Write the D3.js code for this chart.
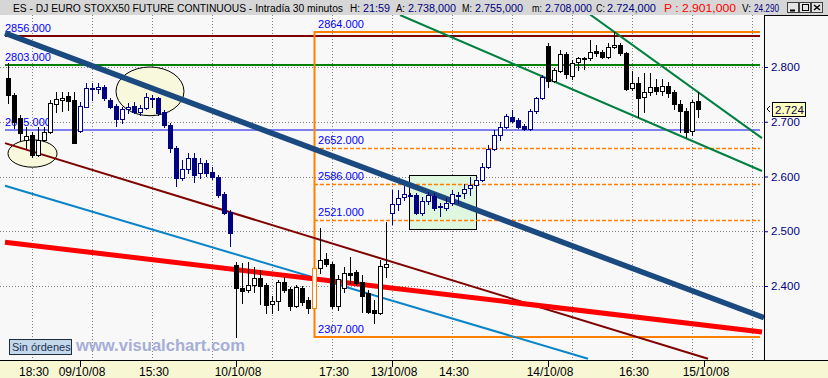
<!DOCTYPE html>
<html>
<head>
<meta charset="utf-8">
<script src="https://cdn.jsdelivr.net/npm/d3@7"></script>
<style>
  body { margin: 0; background: #f8f8f8; }
  svg { display: block; font-family: "Liberation Sans", Arial, sans-serif; }
</style>
</head>
<body>
<div id="chart"></div>
<script>
// OHLC, 30 minute bars, 08/10/08 (partial) .. 14/10/08
var openP = [2780,2749,2707,2667,2676,2639,2667,2681,2732,2740,2747,2740,
  2683,2727,2760,2760,2764,2740,2729,2705,2723,2729,2718,2725,2743,2743,2718,2694,2652,2597,2614,2634,2606,2625,2608,2599,2568,2535,
  2438,2396,2393,2402,2415,2402,2367,2373,2407,2395,2364,2396,2374,2360,2433,2449,2440,2364,2396,2424,2426,2407,2387,2356,2351,2435,
  2533,2550,2563,2566,2566,2533,2555,2564,2546,2543,2552,2564,2570,2579,2584,2594,2617,2650,2676,2690,2709,2703,2692,2687,2720,2743,
  2838,2774,2793,2824,2784,2809,2816,2816,2829,2827,2818,2837,2840,2826,2762,2771,2745,2754,2764,2756,2765,2754,2732,2720,2683,2738];
var highP = [2807,2753,2712,2690,2681,2690,2690,2740,2754,2754,2754,2754,
  2736,2771,2771,2771,2767,2743,2732,2727,2734,2736,2731,2753,2749,2745,2721,2698,2656,2630,2643,2643,2634,2630,2617,2603,2572,2539,
  2444,2442,2444,2435,2429,2405,2382,2411,2416,2398,2402,2400,2380,2444,2506,2460,2444,2420,2435,2453,2429,2420,2393,2374,2448,2517,
  2575,2575,2583,2570,2570,2563,2572,2570,2552,2561,2575,2572,2586,2599,2599,2625,2658,2685,2700,2714,2721,2707,2696,2723,2745,2785,
  2844,2798,2831,2827,2813,2818,2818,2849,2840,2831,2844,2864,2844,2827,2793,2782,2789,2789,2778,2778,2773,2758,2740,2725,2740,2755];
var lowP = [2734,2689,2667,2652,2636,2638,2665,2680,2718,2720,2721,2661,
  2681,2727,2740,2753,2740,2725,2692,2698,2716,2716,2712,2723,2727,2712,2690,2645,2583,2594,2606,2590,2597,2601,2595,2563,2532,2473,
  2307,2369,2389,2389,2367,2351,2351,2356,2389,2356,2362,2365,2351,2307,2424,2437,2360,2356,2389,2405,2402,2353,2351,2332,2349,2416,
  2513,2539,2557,2564,2532,2530,2550,2539,2528,2539,2548,2552,2561,2566,2583,2592,2616,2648,2667,2689,2700,2689,2685,2685,2716,2742,
  2764,2773,2791,2780,2778,2795,2796,2813,2820,2816,2816,2835,2822,2758,2758,2709,2718,2749,2751,2749,2745,2723,2681,2672,2676,2708];
var closeP = [2749,2700,2680,2674,2639,2667,2681,2734,2742,2743,2738,2661,
  2729,2762,2762,2764,2743,2727,2705,2723,2727,2718,2725,2745,2744,2716,2694,2652,2597,2614,2634,2603,2625,2606,2599,2566,2533,2497,
  2396,2391,2402,2415,2400,2365,2373,2407,2393,2364,2398,2371,2360,2433,2448,2440,2364,2413,2424,2420,2405,2382,2353,2351,2437,2440,
  2550,2561,2568,2566,2533,2555,2566,2543,2546,2552,2568,2566,2577,2584,2594,2617,2650,2676,2690,2711,2701,2690,2687,2720,2743,2782,
  2774,2795,2824,2787,2807,2816,2816,2827,2826,2818,2837,2840,2826,2760,2771,2743,2754,2764,2756,2765,2753,2732,2720,2681,2736,2724];

// x axis: bar index of each day start and time labels
var dayStartIdx = [12, 38, 64, 90, 116];
var dayLabels = ["09/10/08", "10/10/08", "13/10/08", "14/10/08", "15/10/08"];
var timeTickIdx = [-6, 4, 24, 54, 74, 104];
var timeLabels = ["13:30", "18:30", "15:30", "17:30", "14:30", "16:30"];
var priceTicks = [2400, 2500, 2600, 2700, 2800];

// drawn studies: [bar index, price]
var navyTrend = [[-0.5, 2862], [126, 2342]];
var redTrend = [[-0.5, 2480], [125.67, 2316]];
var maroonTrend = [[-0.5, 2661], [116.67, 2267]];
var blueTrend = [[-0.5, 2583], [96.67, 2267]];
var greenUpper = [[97, 2896], [125.67, 2670]];
var greenLower = [[65.33, 2895], [125.67, 2610]];
var levelLeft = [2856, 2803, 2685];
var fibHigh = 2864, fibLow = 2307, fibStart = 51;
var fibLevels = [2652, 2586, 2521];
var ellipses = [[0, 8.17, 2617, 2667], [18, 29.33, 2711, 2800]];
var boxArea = [66.83, 78, 2504, 2603];
var lastPrice = 2724;

var svgWidth = 828, svgHeight = 378;
var plotTop = 15, plotRight = 764, plotBottom = 360;
var lineEnd = 125.33;

var x = d3.scaleLinear().domain([0, 115]).range([8, 698]);
var y = d3.scaleLinear().domain([2400, 2800]).range([286, 67]);

var svg = d3.select("#chart").append("svg")
  .attr("width", svgWidth)
  .attr("height", svgHeight);

svg.append("rect").attr("width", svgWidth).attr("height", svgHeight).attr("fill", "#f8f8f8");
svg.append("rect").attr("x", 0).attr("y", 361).attr("width", svgWidth).attr("height", 17).attr("fill", "#f7f7d4");

svg.append("clipPath").attr("id", "plotClip")
  .append("rect").attr("x", 0).attr("y", plotTop).attr("width", plotRight).attr("height", plotBottom - plotTop);

var plotG = svg.append("g").attr("clip-path", "url(#plotClip)");

// grid
plotG.selectAll(".hgrid")
  .data(priceTicks)
  .enter()
  .append("line")
  .attr("x1", 0).attr("x2", plotRight)
  .attr("y1", d => Math.round(y(d)) + 0.5)
  .attr("y2", d => Math.round(y(d)) + 0.5)
  .attr("stroke", "#808080")
  .attr("stroke-dasharray", "1,2");

plotG.selectAll(".vgrid")
  .data(d3.range(4, 125, 10))
  .enter()
  .append("line")
  .attr("x1", d => x(d) + 0.5).attr("x2", d => x(d) + 0.5)
  .attr("y1", plotTop).attr("y2", plotBottom)
  .attr("stroke", "#808080")
  .attr("stroke-dasharray", "1,2");

// highlight shapes
plotG.selectAll(".ell")
  .data(ellipses)
  .enter()
  .append("ellipse")
  .attr("cx", d => (x(d[0]) + x(d[1])) / 2)
  .attr("cy", d => (y(d[2]) + y(d[3])) / 2)
  .attr("rx", d => (x(d[1]) - x(d[0])) / 2)
  .attr("ry", d => Math.abs(y(d[2]) - y(d[3])) / 2)
  .attr("fill", "#f8f8dc")
  .attr("stroke", "#000");

plotG.append("rect")
  .attr("x", Math.round(x(boxArea[0])) + 0.5)
  .attr("y", Math.round(y(boxArea[3])) + 0.5)
  .attr("width", Math.round(x(boxArea[1]) - x(boxArea[0])))
  .attr("height", Math.round(y(boxArea[2]) - y(boxArea[3])))
  .attr("fill", "#dff7df")
  .attr("stroke", "#000");

// horizontal levels
var levelColors = ["#800000", "#008000", "#8080f0"];
plotG.selectAll(".lvl")
  .data(levelLeft)
  .enter()
  .append("line")
  .attr("x1", x(-0.5)).attr("x2", x(lineEnd))
  .attr("y1", d => Math.round(y(d)))
  .attr("y2", d => Math.round(y(d)))
  .attr("stroke", (d, i) => levelColors[i])
  .attr("stroke-width", 2);

plotG.selectAll(".fib")
  .data(fibLevels)
  .enter()
  .append("line")
  .attr("x1", x(fibStart)).attr("x2", x(lineEnd))
  .attr("y1", d => Math.round(y(d)) + 0.5)
  .attr("y2", d => Math.round(y(d)) + 0.5)
  .attr("stroke", "#ff8000")
  .attr("stroke-width", 1.3)
  .attr("stroke-dasharray", "4,2");

plotG.append("path")
  .attr("d", "M" + x(lineEnd) + "," + Math.round(y(fibHigh)) +
    "H" + (x(fibStart) + 0.5) + "V" + Math.round(y(fibLow)) + "H" + x(lineEnd))
  .attr("fill", "none")
  .attr("stroke", "#ff8000")
  .attr("stroke-width", 2);

// level labels
var labelData = levelLeft.map(v => ({ v: v, i: -0.5 }))
  .concat([fibHigh].concat(fibLevels).concat([fibLow]).map(v => ({ v: v, i: fibStart + 0.67 })));
plotG.selectAll(".lvlText")
  .data(labelData)
  .enter()
  .append("text")
  .attr("x", d => x(d.i))
  .attr("y", d => Math.round(y(d.v)) - 4)
  .attr("fill", "#0000ff")
  .attr("font-size", "11px")
  .text(d => d3.format(".3f")(d.v));

// trend lines
var linePath = d3.line().x(d => x(d[0])).y(d => y(d[1]));
var trends = [
  { pts: maroonTrend, color: "#800000", w: 2 },
  { pts: blueTrend, color: "#0a84c8", w: 2 },
  { pts: redTrend, color: "#ff0000", w: 5 },
  { pts: greenUpper, color: "#008040", w: 2 },
  { pts: greenLower, color: "#008040", w: 2 },
  { pts: navyTrend, color: "#1b4a80", w: 5.5 }
];
plotG.selectAll(".trend")
  .data(trends)
  .enter()
  .append("path")
  .attr("d", d => linePath(d.pts))
  .attr("fill", "none")
  .attr("stroke", d => d.color)
  .attr("stroke-width", d => d.w);

// candles
function barColor(i) {
  if (i === fibStart) return "#ff8000";
  var day = d3.bisectRight(dayStartIdx, i);
  return day % 2 === 0 ? "#000000" : "#000080";
}
var candles = plotG.selectAll(".candle")
  .data(d3.range(openP.length))
  .enter()
  .append("g");

candles.append("line")
  .attr("x1", i => x(i) + 0.5).attr("x2", i => x(i) + 0.5)
  .attr("y1", i => Math.round(y(highP[i])))
  .attr("y2", i => Math.round(y(lowP[i])) + 1)
  .attr("stroke", barColor);

candles.append("rect")
  .attr("x", i => x(i) - 1.5)
  .attr("width", 4)
  .attr("y", i => Math.round(y(Math.max(openP[i], closeP[i]))) + 0.5)
  .attr("height", i => Math.max(1, Math.round(y(Math.min(openP[i], closeP[i]))) - Math.round(y(Math.max(openP[i], closeP[i])))))
  .attr("fill", i => closeP[i] >= openP[i] ? "#ffffff" : barColor(i))
  .attr("stroke", barColor);

// watermark and status box
svg.append("rect")
  .attr("x", 9.5).attr("y", 339.5).attr("width", 62).attr("height", 15)
  .attr("fill", "#c4d8ec").attr("stroke", "#1c2c3c");
svg.append("text")
  .attr("x", 12).attr("y", 351)
  .attr("font-size", "11px").attr("fill", "#1c3050")
  .text("Sin órdenes");
svg.append("text")
  .attr("x", 76).attr("y", 351)
  .attr("font-size", "16.5px").attr("font-weight", "bold").attr("fill", "#a6aed6")
  .attr("textLength", 169).attr("lengthAdjust", "spacingAndGlyphs")
  .text("www.visualchart.com");

// x axis
var xAxisG = svg.append("g").attr("transform", `translate(0, ${plotBottom})`);
xAxisG.append("line").attr("x1", 0).attr("x2", plotRight).attr("y1", 0.5).attr("y2", 0.5).attr("stroke", "#000");
xAxisG.call(d3.axisBottom(x).tickValues(d3.range(4, 125, 10)).tickSize(3).tickFormat(""));
xAxisG.call(d3.axisBottom(x).tickValues(dayStartIdx).tickSize(7).tickFormat(""));
xAxisG.selectAll(".domain").remove();
xAxisG.selectAll(".tickLabel")
  .data(timeTickIdx.map((d, k) => ({ i: d, t: timeLabels[k] }))
    .concat(dayStartIdx.map((d, k) => ({ i: d, t: dayLabels[k] }))))
  .enter()
  .append("text")
  .attr("x", d => x(d.i) + 2)
  .attr("y", 16)
  .attr("font-size", "12px")
  .attr("fill", "#000")
  .text(d => d.t);

// right price axis
svg.append("rect")
  .attr("x", plotRight + 0.5).attr("y", plotTop + 0.5)
  .attr("width", svgWidth - plotRight).attr("height", plotBottom - plotTop)
  .attr("fill", "#f8f8f8").attr("stroke", "#000");
var yAxisG = svg.append("g").attr("transform", `translate(${plotRight}, 0)`)
  .call(d3.axisRight(y).tickValues(priceTicks).tickSize(4).tickFormat(d => d3.format(".3f")(d / 1000)));
yAxisG.select(".domain").remove();
yAxisG.selectAll("text").attr("fill", "#000080").attr("font-size", "11.5px").attr("font-family", "Liberation Sans, Arial, sans-serif");
yAxisG.selectAll("line").attr("stroke", "#000080");

// last price marker
var lastY = Math.round(y(lastPrice));
svg.append("path")
  .attr("d", `M770,${lastY - 3}L767,${lastY}L770,${lastY + 3}`)
  .attr("fill", "none").attr("stroke", "#000");
svg.append("rect")
  .attr("x", 772.5).attr("y", lastY - 6.5).attr("width", 33).attr("height", 14)
  .attr("fill", "#ffffc0").attr("stroke", "#000");
svg.append("text")
  .attr("x", 775).attr("y", lastY + 4.5)
  .attr("font-size", "11.5px").attr("fill", "#000040")
  .text(d3.format(".3f")(lastPrice / 1000));

// title bar
svg.append("rect").attr("width", svgWidth).attr("height", plotTop).attr("fill", "#d6d6d6");
var titleParts = [
  { t: "ES - DJ EURO STOXX50 FUTURE CONTINUOUS - Intradía 30 minutos", x: 13, c: "#000", len: 330 },
  { t: "H:", x: 350, c: "#000", len: 10 }, { t: "21:59", x: 363, c: "#000080", len: 27 },
  { t: "A:", x: 396, c: "#000", len: 9 }, { t: "2.738,000", x: 408, c: "#000080", len: 48 },
  { t: "M:", x: 462, c: "#000", len: 10 }, { t: "2.755,000", x: 475, c: "#000080", len: 48 },
  { t: "m:", x: 532, c: "#000", len: 10 }, { t: "2.708,000", x: 545, c: "#000080", len: 47 },
  { t: "C:", x: 596, c: "#000", len: 9 }, { t: "2.724,000", x: 607, c: "#000080", len: 49 },
  { t: "P : 2.901,000", x: 664, c: "#ff0000", len: 72 },
  { t: "V:", x: 742, c: "#000", len: 9 }, { t: "24.290", x: 754, c: "#000080", len: 25 }
];
svg.selectAll(".titlePart")
  .data(titleParts)
  .enter()
  .append("text")
  .attr("x", d => d.x)
  .attr("y", 12)
  .attr("font-size", "10px")
  .attr("fill", d => d.c)
  .attr("textLength", d => d.len)
  .attr("lengthAdjust", "spacingAndGlyphs")
  .text(d => d.t);

// window buttons
var btnX = [787.5, 799.5, 811.5];
svg.selectAll(".btn")
  .data(btnX)
  .enter()
  .append("rect")
  .attr("x", d => d).attr("y", 2.5).attr("width", 11).attr("height", 10)
  .attr("fill", "#e4e4e4").attr("stroke", "#404040");
svg.append("line").attr("x1", 790).attr("x2", 795).attr("y1", 10.5).attr("y2", 10.5).attr("stroke", "#000").attr("stroke-width", 2);
svg.append("rect").attr("x", 802.5).attr("y", 4.5).attr("width", 6).attr("height", 6).attr("fill", "none").attr("stroke", "#000");
svg.append("path").attr("d", "M814,5L820,10M820,5L814,10").attr("stroke", "#000").attr("stroke-width", 1.5);
</script>
</body>
</html>
